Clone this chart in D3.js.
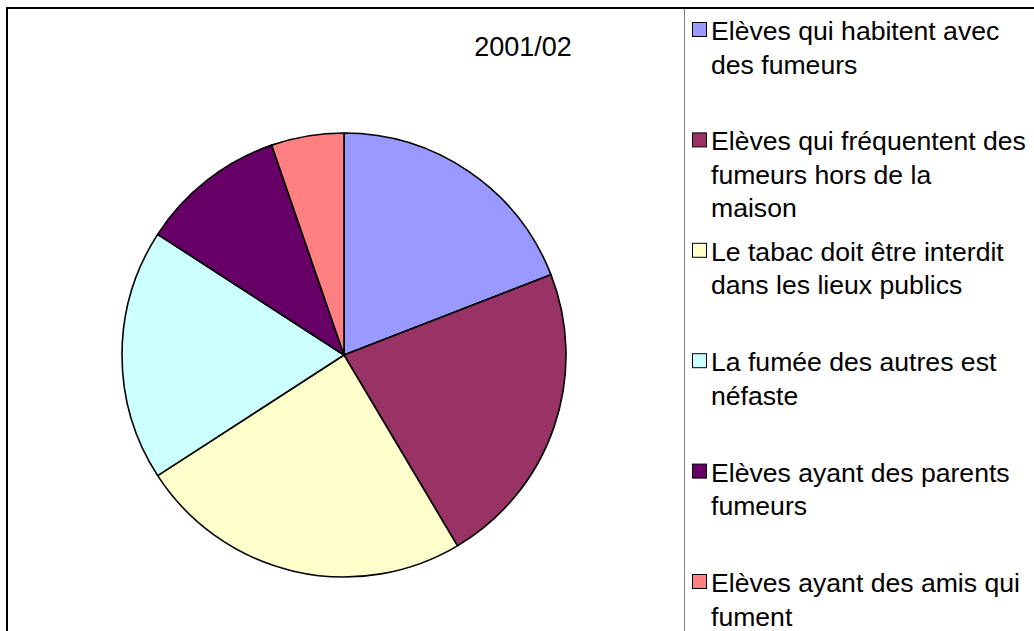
<!DOCTYPE html>
<html>
<head>
<meta charset="utf-8">
<script src="https://cdn.jsdelivr.net/npm/d3@7/dist/d3.min.js"></script>
<style>
  html, body { margin: 0; padding: 0; background: #fff; }
  svg { display: block; }
  text { font-family: Arial, "Liberation Sans", sans-serif; fill: #000; }
</style>
</head>
<body>
<svg id="chart" width="1034" height="631"></svg>
<script>
// Survey shares, 2001/02
const title = "2001/02";
const categories = [
  "Elèves qui habitent avec des fumeurs",
  "Elèves qui fréquentent des fumeurs hors de la maison",
  "Le tabac doit être interdit dans les lieux publics",
  "La fumée des autres est néfaste",
  "Elèves ayant des parents fumeurs",
  "Elèves ayant des amis qui fument"
];
// Legend text split into the lines it wraps to
const legendLines = [
  ["Elèves qui habitent avec", "des fumeurs"],
  ["Elèves qui fréquentent des", "fumeurs hors de la", "maison"],
  ["Le tabac doit être interdit", "dans les lieux publics"],
  ["La fumée des autres est", "néfaste"],
  ["Elèves ayant des parents", "fumeurs"],
  ["Elèves ayant des amis qui", "fument"]
];
const values = [47, 55, 60, 45, 26, 13];
const colors = ["#9999FF", "#993366", "#FFFFCC", "#CCFFFF", "#660066", "#FF8080"];

const svg = d3.select("#chart");

// Chart area frame
svg.append("rect")
  .attr("x", 7).attr("y", 8)
  .attr("width", 1040).attr("height", 640)
  .attr("fill", "none").attr("stroke", "#000").attr("stroke-width", 2);

// Legend box left edge
svg.append("line")
  .attr("x1", 684.5).attr("x2", 684.5)
  .attr("y1", 9).attr("y2", 631)
  .attr("stroke", "#808080").attr("stroke-width", 1);

// Title
svg.append("text")
  .attr("x", 523).attr("y", 56)
  .attr("text-anchor", "middle")
  .attr("font-size", 27)
  .text(title);

// Pie
const cx = 344, cy = 355, radius = 222;
const color = d3.scaleOrdinal().domain(categories).range(colors);
const pie = d3.pie().sort(null).value(d => d.value);
const arc = d3.arc().innerRadius(0).outerRadius(radius);
const data = categories.map((c, i) => ({ name: c, value: values[i] }));

svg.append("g")
  .attr("transform", `translate(${cx},${cy})`)
  .selectAll("path")
  .data(pie(data))
  .join("path")
  .attr("d", arc)
  .attr("fill", d => color(d.data.name))
  .attr("stroke", "#000")
  .attr("stroke-width", 1.6)
  .attr("stroke-linejoin", "round");

// Legend: entries top-aligned on an even pitch
const legendTop = 40, entryStep = 110.4, lineStep = 33.5;
const textX = 711;
const legend = svg.append("g");
categories.forEach((c, i) => {
  const y0 = legendTop + i * entryStep;
  legend.append("rect")
    .attr("x", 692.5).attr("y", y0 - 17.5)
    .attr("width", 14).attr("height", 14)
    .attr("fill", color(c))
    .attr("stroke", "#000").attr("stroke-width", 1);
  const t = legend.append("text")
    .attr("x", textX).attr("y", y0)
    .attr("font-size", 26.6);
  legendLines[i].forEach((ln, j) => {
    t.append("tspan")
      .attr("x", textX)
      .attr("y", y0 + j * lineStep)
      .text(ln);
  });
});
</script>
</body>
</html>
